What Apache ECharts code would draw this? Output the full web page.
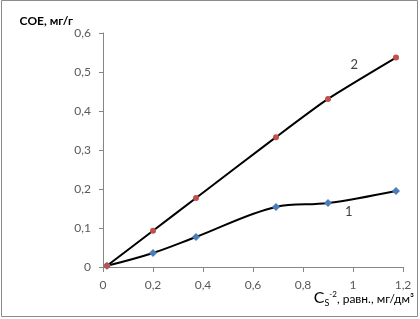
<!DOCTYPE html>
<html>
<head>
<meta charset="utf-8">
<script src="https://cdn.jsdelivr.net/npm/echarts@6/dist/echarts.min.js"></script>
<style>
  html, body { margin: 0; padding: 0; background: #fff; }
  #chart { width: 420px; height: 319px; }
</style>
</head>
<body>
<div id="chart"></div>
<script>
// данные
const xTicks = [0, 0.2, 0.4, 0.6, 0.8, 1, 1.2];
const yTicks = [0, 0.1, 0.2, 0.3, 0.4, 0.5, 0.6];
const cs1 = [0.016, 0.2, 0.372, 0.692, 0.9, 1.172];
const coe1 = [0.003, 0.036, 0.077, 0.154, 0.164, 0.195];
const cs2 = [0.016, 0.2, 0.372, 0.692, 0.9, 1.172];
const coe2 = [0.003, 0.093, 0.177, 0.333, 0.431, 0.537];

const fmt = function (v) { return String(v).replace('.', ','); };

function pairs(xs, ys) {
  const out = [];
  for (let i = 0; i < xs.length; i++) {
    out.push([xs[i], ys[i]]);
  }
  return out;
}

const data1 = pairs(cs1, coe1);
const data2 = pairs(cs2, coe2);
// подписи кривых
data1[4] = {
  value: data1[4],
  label: { show: true, formatter: '1', position: 'right', offset: [8, 9] },
};
data2[5] = {
  value: data2[5],
  label: { show: true, formatter: '2', position: 'left', offset: [-30, 7] },
};

const chart = echarts.init(document.getElementById('chart'));
const option = {
  animation: false,
  grid: {
    left: 103,
    right: 17,
    top: 33,
    bottom: 52,
    outerBoundsMode: 'none',
    containLabel: false,
  },
  xAxis: {
    type: 'value',
    min: xTicks[0],
    max: xTicks[xTicks.length - 1],
    interval: 0.2,
    axisLine: { show: true, lineStyle: { color: '#868686', width: 1 } },
    axisTick: { show: true, length: 5, lineStyle: { color: '#868686' } },
    axisLabel: {
      color: '#595959',
      fontFamily: 'Lato',
      fontSize: 12,
      margin: 12,
      formatter: fmt,
    },
    splitLine: { show: false },
  },
  yAxis: {
    type: 'value',
    min: yTicks[0],
    max: yTicks[yTicks.length - 1],
    interval: 0.1,
    name: 'COE, мг/г',
    nameLocation: 'end',
    nameGap: 5,
    nameTextStyle: {
      fontFamily: 'Lato',
      fontSize: 12,
      fontWeight: 'bold',
      color: '#000',
      align: 'right',
      verticalAlign: 'middle',
      padding: [0, 30, 0, 0],
    },
    axisLine: { show: true, lineStyle: { color: '#868686', width: 1 } },
    axisTick: { show: true, length: 4, lineStyle: { color: '#868686' } },
    axisLabel: {
      color: '#595959',
      fontFamily: 'Lato',
      fontSize: 12,
      margin: 12,
      formatter: fmt,
    },
    splitLine: { show: false },
  },
  series: [
    {
      name: '1',
      type: 'line',
      data: data1,
      smooth: 0.35,
      symbol: 'diamond',
      symbolSize: 8,
      itemStyle: { color: '#4a7ebb' },
      lineStyle: { color: '#000', width: 2 },
      label: { color: '#404040', fontFamily: 'Lato', fontSize: 13 },
      z: 2,
    },
    {
      name: '2',
      type: 'line',
      data: data2,
      smooth: 0.2,
      symbol: 'circle',
      symbolSize: 6,
      itemStyle: { color: '#c0504d' },
      lineStyle: { color: '#000', width: 2 },
      label: { color: '#404040', fontFamily: 'Lato', fontSize: 13 },
      z: 2,
    },
  ],
  graphic: [
    {
      type: 'rect',
      shape: { x: 1.5, y: 0.5, width: 416, height: 316 },
      style: { fill: 'none', stroke: '#8c8c8c', lineWidth: 1 },
      silent: true,
    },
    {
      // подпись оси X
      type: 'text',
      right: 6,
      top: 287,
      style: {
        text: '{c|C}{s|S}{p|-2}{t|, равн., мг/дм³}',
        rich: {
          c: { fontFamily: 'Lato', fontSize: 16, fill: '#000', lineHeight: 19, verticalAlign: 'bottom' },
          s: { fontFamily: 'Lato', fontSize: 9, fill: '#000', lineHeight: 19, verticalAlign: 'bottom', padding: [0, 0, -2, 0] },
          p: { fontFamily: 'Lato', fontSize: 8, fill: '#000', lineHeight: 19, verticalAlign: 'top', padding: [3, 0, 0, 0] },
          t: { fontFamily: 'Lato', fontSize: 12, fill: '#000', lineHeight: 19, verticalAlign: 'bottom', padding: [0, 0, 1, 0] },
        },
      },
    },
  ],
};
chart.setOption(option);
</script>
</body>
</html>
